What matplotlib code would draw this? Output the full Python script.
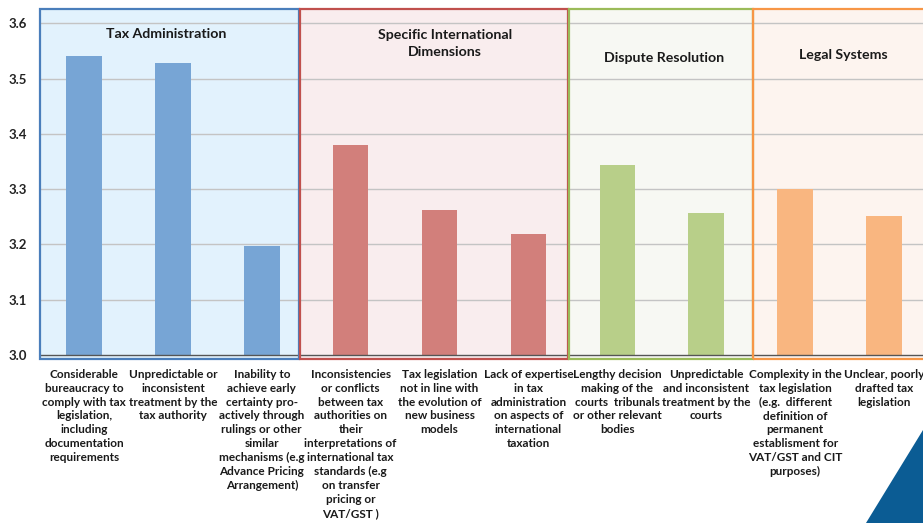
import matplotlib
matplotlib.use("Agg")
import matplotlib.pyplot as plt
from matplotlib.patches import Rectangle, Polygon

plt.rcParams['font.family'] = ['Lato', 'DejaVu Sans']

categories = [
    "Considerable\nbureaucracy to\ncomply with tax\nlegislation,\nincluding\ndocumentation\nrequirements",
    "Unpredictable or\ninconsistent\ntreatment by the\ntax authority",
    "Inability to\nachieve early\ncertainty pro-\nactively through\nrulings or other\nsimilar\nmechanisms (e.g\nAdvance Pricing\nArrangement)",
    "Inconsistencies\nor conflicts\nbetween tax\nauthorities on\ntheir\ninterpretations of\ninternational tax\nstandards (e.g\non transfer\npricing or\nVAT/GST )",
    "Tax legislation\nnot in line with\nthe evolution of\nnew business\nmodels",
    "Lack of expertise\nin tax\nadministration\non aspects of\ninternational\ntaxation",
    "Lengthy decision\nmaking of the\ncourts  tribunals\nor other relevant\nbodies",
    "Unpredictable\nand inconsistent\ntreatment by the\ncourts",
    "Complexity in the\ntax legislation\n(e.g.  different\ndefinition of\npermanent\nestablisment for\nVAT/GST and CIT\npurposes)",
    "Unclear, poorly\ndrafted tax\nlegislation",
]
values = [3.541, 3.529, 3.197, 3.380, 3.263, 3.218, 3.344, 3.257, 3.300, 3.251]
group_names = ["Tax Administration", "Specific International\nDimensions",
               "Dispute Resolution", "Legal Systems"]
group_sizes = [3, 3, 2, 2]
yticks = [3.0, 3.1, 3.2, 3.3, 3.4, 3.5, 3.6]

# styling per group: bar colour, box edge, box fill, box span (x0, x1), title position
bar_colors = ["#77A5D5", "#D27F7B", "#B8CF89", "#F9B680"]
edge_colors = ["#4A7EBB", "#C0504D", "#9BBB59", "#F79646"]
fill_colors = ["#E2F2FD", "#F9EDEE", "#F7F8F3", "#FDF4EF"]
box_spans = [(-0.50, 2.42), (2.43, 5.45), (5.46, 7.53), (7.53, 9.6)]
title_y = [3.580, 3.563, 3.538, 3.543]
title_x = [0.93, 4.06, 6.52, 8.54]

fig = plt.figure(figsize=(9.23, 5.23), dpi=100)
ax = fig.add_axes([0.0428, 0.3107, 0.9632, 0.6765])
ax.set_xlim(-0.5, 9.5)
ax.set_ylim(2.99, 3.63)

# group boxes
for (x0, x1), fc, ec in zip(box_spans, fill_colors, edge_colors):
    ax.add_patch(Rectangle((x0, 2.993), x1 - x0, 3.626 - 2.993,
                           facecolor=fc, edgecolor='none', zorder=0.5))
    ax.add_patch(Rectangle((x0, 2.993), x1 - x0, 3.626 - 2.993,
                           facecolor='none', edgecolor=ec, lw=1.6,
                           zorder=4, clip_on=False))

# gridlines
for yv in yticks[1:]:
    ax.axhline(yv, color="#C4C4C4", lw=1.0, zorder=1)
ax.axhline(3.0, color="#555555", lw=1.0, zorder=3)

# bars
colors = []
for g, n in enumerate(group_sizes):
    colors += [bar_colors[g]] * n
x = list(range(len(values)))
ax.bar(x, [v - 3.0 for v in values], bottom=3.0, width=0.4,
       color=colors, zorder=2)

# group titles
for name, tx, ty in zip(group_names, title_x, title_y):
    ax.text(tx, ty, name, ha='center', va='center', fontsize=10.2,
            fontweight='bold', color="#1a1a1a", linespacing=1.45, zorder=5)

for s in ax.spines.values():
    s.set_visible(False)
ax.set_yticks(yticks)
ax.set_yticklabels([f"{t:.1f}" for t in yticks], fontsize=9.5,
                   fontweight='bold', color="#222222")
ax.tick_params(axis='y', length=0, pad=9)
ax.set_xticks(x)
ax.set_xticklabels(categories, fontsize=8.5, fontweight='bold',
                   color="#1a1a1a", linespacing=1.32)
ax.tick_params(axis='x', length=0, pad=6)

# corner decoration
fig.patches.append(Polygon([[866 / 923, 0], [1, 93 / 523], [1, 0]],
                           closed=True, transform=fig.transFigure,
                           facecolor="#0B5C94", edgecolor='none'))

fig.savefig("out.png", dpi=100, facecolor='white')
